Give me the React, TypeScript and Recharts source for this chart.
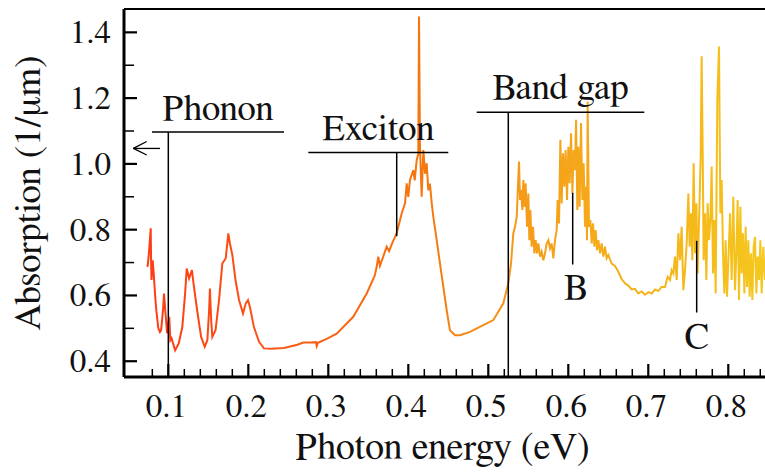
import { LineChart, Line, XAxis, YAxis, ReferenceLine } from "recharts";

// photon energy (eV)
const energy = [
  0.074, 0.0755, 0.078, 0.0785, 0.079, 0.0805, 0.082, 0.0835, 0.085, 0.0875,
  0.0895, 0.091, 0.0935, 0.0946, 0.0965, 0.0985, 0.1012, 0.1025, 0.104, 0.1085,
  0.113, 0.1175, 0.121, 0.123, 0.126, 0.1295, 0.1315, 0.136, 0.141, 0.1455,
  0.1488, 0.151, 0.152, 0.1536, 0.155, 0.159, 0.1634, 0.1675, 0.1718, 0.175,
  0.177, 0.18, 0.184, 0.1884, 0.1934, 0.1968, 0.1996, 0.202, 0.207, 0.2134,
  0.2196, 0.228, 0.2446, 0.2613, 0.2687, 0.278, 0.2845, 0.2855, 0.287, 0.298,
  0.3105, 0.3312, 0.348, 0.358, 0.3605, 0.3625, 0.3645, 0.373, 0.376, 0.38,
  0.3855, 0.3918, 0.3959, 0.398, 0.4, 0.4021, 0.4063, 0.408, 0.4105, 0.4125,
  0.4134, 0.4146, 0.4167, 0.4188, 0.421, 0.423, 0.425, 0.427, 0.4293, 0.4313,
  0.4355, 0.4396, 0.4438, 0.448, 0.4521, 0.4584, 0.4646, 0.4771, 0.4938, 0.5063,
  0.5188, 0.525,
  0.5284, 0.5313, 0.5334, 0.5355, 0.5384, 0.5397, 0.5409, 0.5426, 0.5438, 0.5451,
  0.5467, 0.5484, 0.5501, 0.5513, 0.5526, 0.5542, 0.5559, 0.5576, 0.5592, 0.5609,
  0.5626, 0.5647, 0.5667, 0.5688, 0.5709, 0.573, 0.5751, 0.5772, 0.5792, 0.5813,
  0.5834, 0.5855, 0.5867, 0.5884, 0.5901, 0.5917, 0.5934, 0.5951, 0.5967, 0.5984,
  0.6001, 0.6017, 0.6034, 0.6051, 0.6067, 0.6084, 0.6097, 0.6113, 0.6126, 0.6142,
  0.6159, 0.6176, 0.6192, 0.6209, 0.6222, 0.6234, 0.6242, 0.6259, 0.6276, 0.6292,
  0.6309, 0.6326, 0.6342, 0.6359, 0.6376, 0.6397, 0.6417, 0.6438, 0.6459, 0.648,
  0.6501, 0.6542, 0.6584, 0.6625, 0.6667, 0.6709, 0.675, 0.6792, 0.6834, 0.6875,
  0.6917, 0.6959, 0.7, 0.7042, 0.7084, 0.7125, 0.7167, 0.7209, 0.7242, 0.7272,
  0.7292, 0.7313, 0.7334, 0.7355, 0.7376, 0.7397, 0.7417, 0.7438, 0.7459, 0.748,
  0.7501, 0.7517, 0.7534, 0.7551, 0.7567, 0.7584, 0.7601, 0.7617, 0.7638, 0.7655,
  0.7667, 0.768, 0.7692, 0.7709, 0.7726, 0.7742, 0.7759, 0.7776, 0.7792, 0.7809,
  0.7826, 0.7842, 0.7863, 0.7884, 0.7901, 0.7917, 0.7934, 0.7951, 0.7967, 0.7984,
  0.8001, 0.8022, 0.8042, 0.8063, 0.8084, 0.8101, 0.8117, 0.8134, 0.8151, 0.8167,
  0.8184, 0.8201, 0.8217, 0.8234, 0.8251, 0.8267, 0.8284, 0.8301, 0.8317, 0.8334,
  0.8351, 0.8367, 0.8384, 0.8401, 0.8417, 0.8438, 0.8459,
];

// absorption (1/um) at each energy above
const absorption = [
  0.687, 0.72, 0.804, 0.7, 0.647, 0.707, 0.657, 0.6, 0.555, 0.5,
  0.489, 0.494, 0.56, 0.606, 0.545, 0.485, 0.535, 0.464, 0.47, 0.433,
  0.454, 0.504, 0.606, 0.682, 0.652, 0.677, 0.637, 0.555, 0.474, 0.444,
  0.464, 0.555, 0.621, 0.525, 0.474, 0.494, 0.586, 0.697, 0.713, 0.789,
  0.758, 0.723, 0.647, 0.586, 0.545, 0.576, 0.586, 0.565, 0.504, 0.459,
  0.439, 0.438, 0.44, 0.45, 0.457, 0.457, 0.458, 0.446, 0.456, 0.468,
  0.484, 0.535, 0.606, 0.66, 0.687, 0.718, 0.69, 0.748, 0.735, 0.76,
  0.789, 0.85, 0.88, 0.941, 0.9, 0.951, 0.981, 0.95, 1.012, 1.03,
  1.448, 1.052, 0.9, 1.042, 0.97, 1.002, 0.92, 0.94, 0.88, 0.839,
  0.768, 0.697, 0.626, 0.555, 0.494, 0.479, 0.479, 0.489, 0.51, 0.525,
  0.576, 0.637,
  0.697, 0.789, 0.809, 0.839, 1.007, 0.89, 0.921, 0.86, 0.951, 0.87,
  0.941, 0.809, 0.91, 0.768, 0.86, 0.748, 0.809, 0.728, 0.768, 0.728,
  0.758, 0.718, 0.733, 0.707, 0.728, 0.758, 0.768, 0.743, 0.758, 0.713,
  0.768, 0.799, 0.89, 0.819, 1.073, 0.88, 1.032, 0.931, 1.042, 0.89,
  1.052, 0.941, 1.093, 0.91, 1.042, 0.981, 1.134, 0.86, 1.052, 0.87,
  1.124, 0.89, 1.002, 0.809, 0.931, 0.768, 1.19, 0.809, 0.829, 0.758,
  0.819, 0.748, 0.799, 0.738, 0.768, 0.728, 0.758, 0.718, 0.748, 0.713,
  0.723, 0.697, 0.69, 0.672, 0.65, 0.637, 0.63, 0.618, 0.62, 0.606,
  0.612, 0.602, 0.61, 0.606, 0.618, 0.614, 0.626, 0.626, 0.657, 0.647,
  0.677, 0.667, 0.718, 0.647, 0.789, 0.707, 0.809, 0.616, 0.677, 0.758,
  0.91, 0.748, 0.85, 0.707, 1.002, 0.728, 0.88, 0.667, 0.86, 1.022,
  1.327, 1.042, 0.707, 0.85, 0.647, 0.88, 0.768, 0.829, 0.992, 0.667,
  0.829, 0.606, 1.195, 1.357, 0.85, 0.951, 0.728, 0.606, 0.768, 0.596,
  0.707, 0.85, 0.647, 0.9, 0.616, 0.728, 0.89, 0.586, 0.87, 0.667,
  0.789, 0.606, 0.809, 0.626, 0.768, 0.596, 0.728, 0.586, 0.748, 0.778,
  0.606, 0.718, 0.647, 0.768, 0.606, 0.748, 0.647,
];

const xTicks = [
  0.08, 0.1, 0.12, 0.14, 0.16, 0.18, 0.2, 0.22, 0.24, 0.26, 0.28, 0.3, 0.32,
  0.34, 0.36, 0.38, 0.4, 0.42, 0.44, 0.46, 0.48, 0.5, 0.52, 0.54, 0.56, 0.58,
  0.6, 0.62, 0.64, 0.66, 0.68, 0.7, 0.72, 0.74, 0.76, 0.78, 0.8, 0.82, 0.84,
];
const xLabels = ["0.1", "0.2", "0.3", "0.4", "0.5", "0.6", "0.7", "0.8"];
const yTicks = [0.4, 0.5, 0.6, 0.7, 0.8, 0.9, 1.0, 1.1, 1.2, 1.3, 1.4];
const yLabels = ["0.4", "0.6", "0.8", "1.0", "1.2", "1.4"];

const data = energy.map((e, i) => ({ e, a: absorption[i] }));

const X_MIN = 0.0446;
const X_MAX = 0.8459;
const Y_MIN = 0.352;
const Y_MAX = 1.471;

// several Times-like faces in case one is not picked up at large sizes
const FONT = "FreeSerif, 'Liberation Serif', Tinos, 'Times New Roman', 'Noto Serif', 'DejaVu Serif', serif";

const SText = (p: any) => {
  const { x, y, size, rotate = 0, anchor = "middle", children } = p;
  const st = { fontFamily: FONT, fontSize: size };
  if (rotate) {
    return (
      <text transform={`translate(${x},${y}) rotate(${rotate})`} textAnchor={anchor} style={st} fill="#111">
        {children}
      </text>
    );
  }
  return (
    <text x={x} y={y} textAnchor={anchor} style={st} fill="#111">
      {children}
    </text>
  );
};

const box = (vb: any) => {
  if (!vb) return { x: 0, y: 0, width: 0, height: 0 };
  if (vb.x1 !== undefined && vb.x === undefined) {
    return {
      x: Math.min(vb.x1, vb.x2),
      y: Math.min(vb.y1, vb.y2),
      width: Math.abs(vb.x2 - vb.x1),
      height: Math.abs(vb.y2 - vb.y1),
    };
  }
  return vb;
};

const topLabel = (text: string, offset: number) => (p: any) => {
  const b = box(p.viewBox);
  return <SText x={b.x + b.width / 2} y={b.y - offset} size={37}>{text}</SText>;
};

const bottomLabel = (text: string, offset: number, dx: number) => (p: any) => {
  const b = box(p.viewBox);
  return <SText x={b.x + b.width / 2 + dx} y={b.y + b.height + offset} size={37}>{text}</SText>;
};

const XTitle = (p: any) => {
  const b = box(p.viewBox);
  return <SText x={b.x + b.width / 2 - 2} y={b.y + 82} size={38}>Photon energy (eV)</SText>;
};

const YTitle = (p: any) => {
  const b = box(p.viewBox);
  return <SText x={b.x + 40} y={b.y + b.height / 2} size={37} rotate={-90}>Absorption (1/{"\u03bc"}m)</SText>;
};

const XTick = (props: any) => {
  const { x, y, payload } = props;
  const label = payload.value.toFixed(1);
  const major = Math.abs(payload.value * 10 - Math.round(payload.value * 10)) < 1e-6;
  return (
    <g>
      <line x1={x} y1={y} x2={x} y2={y - (major ? 13 : 8)} stroke="#000" strokeWidth={major ? 2.2 : 1.5} />
      {major && xLabels.includes(label) && (
        <SText x={x - 2} y={y + 40} size={33}>{label}</SText>
      )}
    </g>
  );
};

const YTick = (props: any) => {
  const { x, y, payload } = props;
  const label = payload.value.toFixed(1);
  const major = yLabels.includes(label);
  return (
    <g>
      <line x1={x} y1={y} x2={x + (major ? 13 : 10)} y2={y} stroke="#000" strokeWidth={major ? 2.2 : 1.5} />
      {major && (
        <SText x={x - 13} y={y + 11} size={33} anchor="end">{label}</SText>
      )}
    </g>
  );
};

export default function App() {
  return (
    <div style={{ position: "absolute", left: 0, top: 0, background: "#fff" }}>
      <LineChart width={765} height={472} data={data} margin={{ top: 9, right: 0, bottom: 0, left: 0 }}>
        <defs>
          <linearGradient id="absGrad" x1="0" y1="0" x2="1" y2="0">
            <stop offset="0" stopColor="#ff3c14" />
            <stop offset="0.2" stopColor="#fb5516" />
            <stop offset="0.45" stopColor="#f5780f" />
            <stop offset="0.6" stopColor="#f59a18" />
            <stop offset="0.72" stopColor="#f5aa1a" />
            <stop offset="0.9" stopColor="#f5bb1a" />
            <stop offset="1" stopColor="#f5c81f" />
          </linearGradient>
        </defs>
        <XAxis
          dataKey="e"
          type="number"
          domain={[X_MIN, X_MAX]}
          ticks={xTicks}
          allowDataOverflow
          height={95}
          tickSize={0}
          tickMargin={0}
          tickLine={false}
          tick={<XTick />}
          axisLine={{ stroke: "#000", strokeWidth: 3 }}
          interval={0}
          label={{ content: XTitle }}
        />
        <YAxis
          type="number"
          domain={[Y_MIN, Y_MAX]}
          ticks={yTicks}
          allowDataOverflow
          width={124}
          tickSize={0}
          tickMargin={0}
          tickLine={false}
          tick={<YTick />}
          axisLine={{ stroke: "#000", strokeWidth: 3 }}
          interval={0}
          label={{ content: YTitle }}
        />
        <ReferenceLine y={Y_MAX} stroke="#000" strokeWidth={2} ifOverflow="visible" />

        <Line
          dataKey="a"
          type="linear"
          stroke="url(#absGrad)"
          strokeWidth={2}
          dot={false}
          isAnimationActive={false}
        />

        {/* phonon */}
        <ReferenceLine
          segment={[{ x: 0.0796, y: 1.097 }, { x: 0.2446, y: 1.097 }]}
          stroke="#000"
          strokeWidth={1.5}
          ifOverflow="visible"
          label={{ content: topLabel("Phonon", 12) }}
        />
        <ReferenceLine segment={[{ x: 0.1, y: 1.097 }, { x: 0.1, y: Y_MIN }]} stroke="#000" strokeWidth={1.5} ifOverflow="visible" />
        <ReferenceLine segment={[{ x: 0.0563, y: 1.047 }, { x: 0.0896, y: 1.047 }]} stroke="#000" strokeWidth={1.3} ifOverflow="visible" />
        <ReferenceLine segment={[{ x: 0.0563, y: 1.047 }, { x: 0.073, y: 1.068 }]} stroke="#000" strokeWidth={1.3} ifOverflow="visible" />
        <ReferenceLine segment={[{ x: 0.0563, y: 1.047 }, { x: 0.073, y: 1.027 }]} stroke="#000" strokeWidth={1.3} ifOverflow="visible" />

        {/* exciton */}
        <ReferenceLine
          segment={[{ x: 0.275, y: 1.035 }, { x: 0.45, y: 1.035 }]}
          stroke="#000"
          strokeWidth={1.5}
          ifOverflow="visible"
          label={{ content: topLabel("Exciton", 12) }}
        />
        <ReferenceLine segment={[{ x: 0.3855, y: 1.035 }, { x: 0.3855, y: 0.78 }]} stroke="#000" strokeWidth={1.5} ifOverflow="visible" />

        {/* band gap */}
        <ReferenceLine
          segment={[{ x: 0.4855, y: 1.157 }, { x: 0.695, y: 1.157 }]}
          stroke="#000"
          strokeWidth={1.5}
          ifOverflow="visible"
          label={{ content: topLabel("Band gap", 13) }}
        />
        <ReferenceLine segment={[{ x: 0.525, y: 1.157 }, { x: 0.525, y: Y_MIN }]} stroke="#000" strokeWidth={1.5} ifOverflow="visible" />

        {/* B and C */}
        <ReferenceLine
          segment={[{ x: 0.6055, y: 0.912 }, { x: 0.6055, y: 0.694 }]}
          stroke="#000"
          strokeWidth={1.5}
          ifOverflow="visible"
          label={{ content: bottomLabel("B", 34, 3) }}
        />
        <ReferenceLine
          segment={[{ x: 0.7605, y: 0.766 }, { x: 0.7605, y: 0.548 }]}
          stroke="#000"
          strokeWidth={1.5}
          ifOverflow="visible"
          label={{ content: bottomLabel("C", 36, 0) }}
        />
      </LineChart>
    </div>
  );
}
